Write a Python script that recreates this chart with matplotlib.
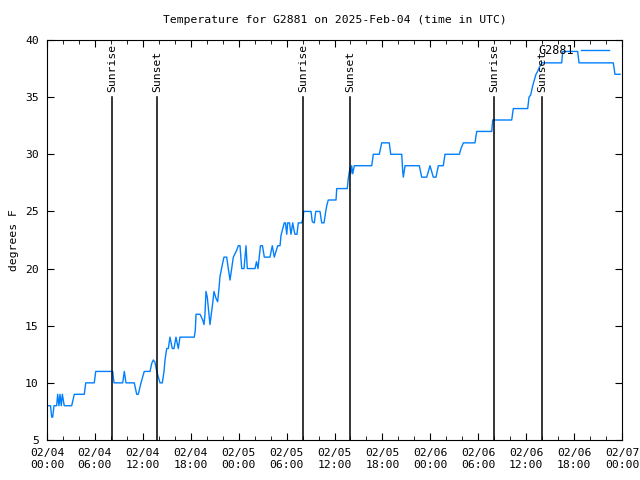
import matplotlib
matplotlib.use('Agg')
import matplotlib.pyplot as plt
import matplotlib.dates as mdates
import pandas as pd

# hours since 2025-02-04 00:00 UTC, temperature in F
hours = [0.16, 0.44, 0.59, 0.71, 0.88, 1.21, 1.34, 1.50, 1.63, 1.79, 1.92, 2.16,
         3.09, 3.42, 4.67, 4.85, 5.92, 6.10, 8.23, 8.39, 9.48, 9.68, 9.89, 10.93,
         11.23, 11.43, 11.77, 11.98, 12.18, 12.90, 13.11, 13.31, 13.52, 13.74, 13.94,
         14.15, 14.44, 14.65, 14.78, 14.99, 15.19, 15.40, 15.69, 15.90, 16.15, 16.44,
         16.65, 18.44, 18.57, 18.66, 19.16, 19.50, 19.66, 19.78, 19.91, 20.07, 20.20,
         20.41, 20.57, 20.75, 20.91, 21.16, 21.37, 21.54, 21.66, 21.83, 22.00, 22.16,
         22.50, 22.70, 22.92, 23.13, 23.33, 23.54, 23.75, 23.95, 24.17, 24.38, 24.67,
         24.92, 25.08, 26.05, 26.23, 26.42, 26.73, 26.98, 27.21, 27.92, 28.21, 28.46,
         28.68, 28.89, 29.18, 29.30, 29.49, 29.71, 29.86, 30.02, 30.14, 30.37, 30.55,
         30.77, 30.89, 31.05, 31.30, 31.47, 31.89, 32.06, 32.14, 33.06, 33.22, 33.47,
         33.65, 34.18, 34.40, 34.69, 34.90, 35.06, 35.22, 36.19, 36.28, 37.60, 37.73,
         37.94, 38.03, 38.15, 38.28, 38.48, 40.66, 40.86, 41.61, 41.91, 42.86, 43.04,
         44.42, 44.54, 44.62, 44.83, 46.62, 46.92, 47.55, 47.96, 48.37, 48.71, 49.00,
         49.62, 49.84, 51.63, 51.84, 52.13, 53.59, 53.81, 55.69, 55.81, 58.19, 58.39,
         60.19, 60.36, 60.57, 60.82, 61.02, 61.23, 61.40, 61.65, 61.95, 64.45, 64.58,
         66.45, 66.62, 70.91, 71.12, 71.75]
temps = [8, 8, 7, 7, 8, 8, 9, 8, 9, 8, 9, 8,
         8, 9, 9, 10, 10, 11, 11, 10, 10, 11, 10, 10,
         9, 9, 10, 10.5, 11, 11, 11.7, 12, 11.8, 11, 10.5,
         10, 10, 11, 12, 13, 13, 14, 13, 13, 14, 13,
         14, 14, 14.6, 16, 16, 15.5, 15.1, 16, 18, 17.5, 16.6,
         15.1, 16, 17, 18, 17.4, 17.1, 18.3, 19.3, 19.9, 20.5, 21,
         21, 20, 19, 20, 21, 21.3, 21.6, 22, 22, 20, 20,
         22, 20, 20, 20.6, 20, 22, 22, 21, 21, 22, 21,
         21.5, 22, 22, 22.9, 23.4, 24, 24, 23, 24, 24, 23,
         24, 23.5, 23, 23, 24, 24, 24.4, 25, 25, 24.1, 24,
         25, 25, 24, 24, 25, 25.6, 26, 26, 27, 27, 27.9,
         28.8, 28.3, 29, 28.3, 29, 29, 30, 30, 31, 31, 30,
         30, 28.5, 28, 29, 29, 28, 28, 29, 28, 28, 29,
         29, 30, 30, 30.5, 31, 31, 32, 32, 33, 33, 34,
         34, 35, 35.2, 36, 36.5, 37, 37.2, 37.6, 38, 38, 39,
         39, 38, 38, 37, 37]

sun_hours = [8.14, 13.77, 32.06, 37.94, 55.97, 61.98]
sun_labels = ['Sunrise', 'Sunset', 'Sunrise', 'Sunset', 'Sunrise', 'Sunset']

start = pd.Timestamp('2025-02-04 00:00')
times = start + pd.to_timedelta(hours, unit='h')
sun_times = start + pd.to_timedelta(sun_hours, unit='h')

plt.rcParams['font.family'] = 'DejaVu Sans Mono'
plt.rcParams['font.size'] = 8

fig = plt.figure(figsize=(6.4, 4.8), dpi=100)
ax = fig.add_axes([47 / 640, 40 / 480, 575 / 640, 400 / 480])

ax.plot(times, temps, color='#0080ff', lw=1.0, label='G2881')

for t, lab in zip(sun_times, sun_labels):
    ax.plot([t, t], [5, 35], color='black', lw=1.1)
    ax.text(t, 35.45, lab, rotation=90, ha='center', va='bottom', fontsize=8.2)

ax.set_xlim(start, start + pd.Timedelta(hours=72))
ax.set_ylim(5, 40)
ax.set_yticks(range(5, 41, 5))
ax.xaxis.set_major_locator(mdates.HourLocator(byhour=[0, 6, 12, 18]))
ax.xaxis.set_minor_locator(mdates.HourLocator(interval=2))
ax.xaxis.set_major_formatter(mdates.DateFormatter('%m/%d\n%H:%M'))
ax.tick_params(which='both', direction='in', top=True, right=True, labelsize=8.2)
ax.tick_params(which='major', length=5, pad=6)
ax.tick_params(which='minor', length=3)

ax.set_title('Temperature for G2881 on 2025-Feb-04 (time in UTC)', fontsize=8.2, pad=12)
ax.set_ylabel('degrees F', fontsize=8.2)
ax.legend(loc='upper right', bbox_to_anchor=((609 - 47) / 575, (440 - 44) / 400),
          frameon=False, markerfirst=False, handlelength=2.4, handletextpad=0.6,
          fontsize=8.5, borderaxespad=0, borderpad=0)

fig.savefig('out.png', dpi=100)
